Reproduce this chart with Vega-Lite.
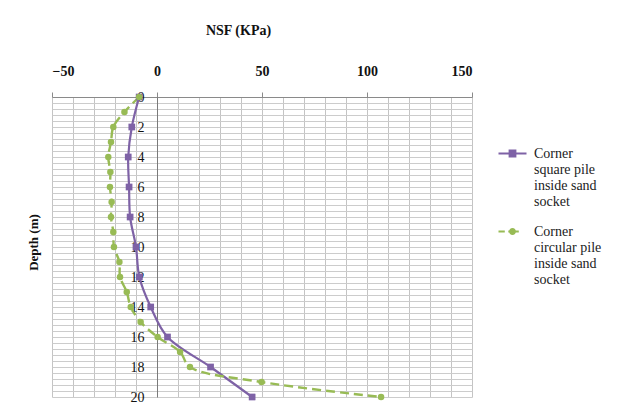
{
  "$schema": "https://vega.github.io/schema/vega-lite/v6.json",
  "autosize": "none",
  "width": 420,
  "height": 300,
  "padding": {"left": 52, "top": 97, "right": 164, "bottom": 18},
  "background": "white",
  "config": {
    "view": {"stroke": null},
    "font": "Liberation Serif"
  },
  "data": {
    "values": [
      {"series": "Corner square pile inside sand socket", "depth": 0, "nsf": -8.5},
      {"series": "Corner square pile inside sand socket", "depth": 2, "nsf": -12},
      {"series": "Corner square pile inside sand socket", "depth": 4, "nsf": -13.7},
      {"series": "Corner square pile inside sand socket", "depth": 6, "nsf": -13.3},
      {"series": "Corner square pile inside sand socket", "depth": 8, "nsf": -12.8},
      {"series": "Corner square pile inside sand socket", "depth": 10, "nsf": -10},
      {"series": "Corner square pile inside sand socket", "depth": 12, "nsf": -8.4},
      {"series": "Corner square pile inside sand socket", "depth": 14, "nsf": -3},
      {"series": "Corner square pile inside sand socket", "depth": 16, "nsf": 5},
      {"series": "Corner square pile inside sand socket", "depth": 18, "nsf": 25.5},
      {"series": "Corner square pile inside sand socket", "depth": 20, "nsf": 45.3},
      {"series": "Corner circular pile inside sand socket", "depth": 0, "nsf": -8.5},
      {"series": "Corner circular pile inside sand socket", "depth": 1, "nsf": -15.5},
      {"series": "Corner circular pile inside sand socket", "depth": 2, "nsf": -20.8},
      {"series": "Corner circular pile inside sand socket", "depth": 3, "nsf": -21.9},
      {"series": "Corner circular pile inside sand socket", "depth": 4, "nsf": -23.2},
      {"series": "Corner circular pile inside sand socket", "depth": 5, "nsf": -22.2},
      {"series": "Corner circular pile inside sand socket", "depth": 6, "nsf": -22.4},
      {"series": "Corner circular pile inside sand socket", "depth": 7, "nsf": -21.6},
      {"series": "Corner circular pile inside sand socket", "depth": 8, "nsf": -21.9},
      {"series": "Corner circular pile inside sand socket", "depth": 9, "nsf": -20.8},
      {"series": "Corner circular pile inside sand socket", "depth": 10, "nsf": -20.5},
      {"series": "Corner circular pile inside sand socket", "depth": 11, "nsf": -17.9},
      {"series": "Corner circular pile inside sand socket", "depth": 12, "nsf": -17.6},
      {"series": "Corner circular pile inside sand socket", "depth": 13, "nsf": -14.4},
      {"series": "Corner circular pile inside sand socket", "depth": 14, "nsf": -12.5},
      {"series": "Corner circular pile inside sand socket", "depth": 15, "nsf": -7.8},
      {"series": "Corner circular pile inside sand socket", "depth": 16, "nsf": 0.3},
      {"series": "Corner circular pile inside sand socket", "depth": 17, "nsf": 11},
      {"series": "Corner circular pile inside sand socket", "depth": 18, "nsf": 15.7},
      {"series": "Corner circular pile inside sand socket", "depth": 19, "nsf": 49.8},
      {"series": "Corner circular pile inside sand socket", "depth": 20, "nsf": 106.7}
    ]
  },
  "encoding": {
    "x": {
      "field": "nsf", "type": "quantitative",
      "scale": {"domain": [-50, 150], "nice": false, "zero": false},
      "axis": {
        "orient": "top",
        "values": [-50,-40,-30,-20,-10,0,10,20,30,40,50,60,70,80,90,100,110,120,130,140,150],
        "tickCount": 40,
        "labelExpr": "datum.value % 50 === 0 ? format(datum.value, 'd') : ''",
        "labelOverlap": false,
        "grid": true, "gridColor": "#c4c4c4", "gridWidth": 1,
        "domainColor": "#8a8a8a",
        "tickColor": "#8a8a8a", "tickSize": 5,
        "tickOpacity": {"condition": {"test": "datum.value % 50 === 0", "value": 1}, "value": 0},
        "labelFont": "Liberation Serif", "labelFontSize": 14, "labelFontWeight": "bold", "labelColor": "#111",
        "labelPadding": 14,
        "title": "NSF (KPa)",
        "titleFont": "Liberation Serif", "titleFontSize": 14, "titleFontWeight": "bold", "titleColor": "#111",
        "titleX": 186, "titleY": -67, "titleBaseline": "middle", "titleAlign": "center"
      }
    },
    "y": {
      "field": "depth", "type": "quantitative",
      "scale": {"domain": [0, 20], "nice": false, "zero": false, "reverse": true},
      "axis": {
        "orient": "left",
        "offset": -105,
        "values": [0,0.4,0.8,1.2,1.6,2,2.4,2.8,3.2,3.6,4,4.4,4.8,5.2,5.6,6,6.4,6.8,7.2,7.6,8,8.4,8.8,9.2,9.6,10,10.4,10.8,11.2,11.6,12,12.4,12.8,13.2,13.6,14,14.4,14.8,15.2,15.6,16,16.4,16.8,17.2,17.6,18,18.4,18.8,19.2,19.6,20],
        "tickCount": 100,
        "labelExpr": "datum.value % 2 === 0 ? format(datum.value, 'd') : ''",
        "labelOverlap": false,
        "grid": true, "gridColor": "#cccccc", "gridWidth": 1,
        "domainColor": "#7a7a7a",
        "ticks": false,
        "labelFont": "Liberation Serif", "labelFontSize": 14, "labelColor": "#111",
        "labelPadding": 13,
        "title": "Depth (m)",
        "titleFont": "Liberation Serif", "titleFontSize": 13, "titleFontWeight": "bold", "titleColor": "#111",
        "titleX": -124, "titleY": 145, "titleAngle": -90, "titleBaseline": "middle", "titleAlign": "center"
      }
    }
  },
  "layer": [
    {
      "transform": [{"filter": "datum.series === 'Corner square pile inside sand socket'"}],
      "mark": {"type": "line", "interpolate": "catmull-rom", "strokeWidth": 2.2},
      "encoding": {
        "order": {"field": "depth", "type": "quantitative"},
        "color": {
          "field": "series", "type": "nominal",
          "scale": {"domain": ["Corner square pile inside sand socket", "Corner circular pile inside sand socket"], "range": ["#7e62a6", "#98bb55"]},
          "legend": {
            "orient": "none", "legendX": 445, "legendY": 41,
            "title": null,
            "symbolSize": 784, "symbolStrokeWidth": 2.2,
            "labelFont": "Liberation Serif", "labelFontSize": 14, "labelColor": "#222",
            "labelLimit": 200, "labelOffset": 6, "rowPadding": 7,
            "labelExpr": "datum.value === 'Corner square pile inside sand socket' ? ['Corner', 'square pile', 'inside sand', 'socket'] : ['Corner', 'circular pile', 'inside sand', 'socket']",
            "labelBaseline": "top",
            "encode": {
              "symbols": {"update": {
                "shape": {"signal": "datum.value === 'Corner square pile inside sand socket' ? 'M-1,0H1M-0.2,-0.2H0.2V0.2H-0.2Z' : 'M-1,0H-0.55M-0.3,0H0.45M-0.17,0A0.17,0.17,0,1,0,0.17,0A0.17,0.17,0,1,0,-0.17,0Z'"},
                "fill": {"signal": "datum.value === 'Corner square pile inside sand socket' ? '#7e62a6' : '#98bb55'"},
                "fillOpacity": {"value": 1}
              }},
              "labels": {"update": {"lineHeight": {"value": 16}, "dy": {"value": -7}}}
            }
          }
        }
      }
    },
    {
      "transform": [{"filter": "datum.series === 'Corner circular pile inside sand socket'"}],
      "mark": {"type": "line", "interpolate": "catmull-rom", "strokeWidth": 2.4, "strokeDash": [9, 5]},
      "encoding": {
        "order": {"field": "depth", "type": "quantitative"},
        "color": {"field": "series", "type": "nominal"}
      }
    },
    {
      "transform": [{"filter": "datum.series === 'Corner square pile inside sand socket'"}],
      "mark": {"type": "point", "shape": "square", "filled": true, "opacity": 1, "color": "#7e62a6", "size": 45}
    },
    {
      "transform": [{"filter": "datum.series === 'Corner circular pile inside sand socket'"}],
      "mark": {"type": "point", "shape": "circle", "filled": true, "opacity": 1, "color": "#98bb55", "size": 42}
    }
  ]
}
